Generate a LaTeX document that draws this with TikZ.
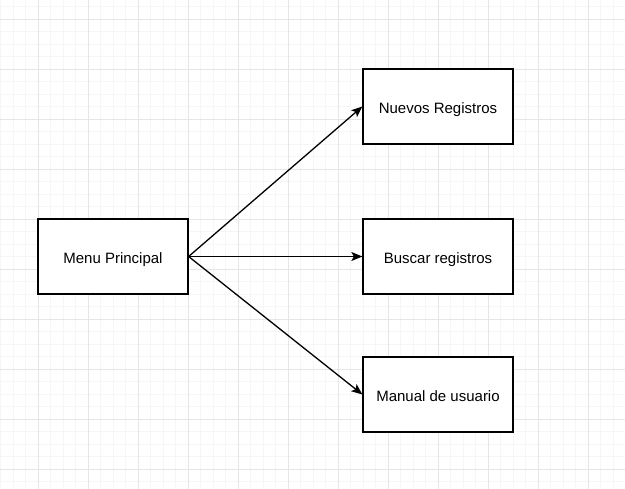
\documentclass[tikz,border=0pt]{standalone}
\usepackage{fontspec}
\setmainfont{Liberation Sans}
\usetikzlibrary{arrows.meta}
\definecolor{gridminor}{HTML}{F6F6F6}
\definecolor{gridmajor}{HTML}{E6E6E6}

\begin{document}
\begin{tikzpicture}[x=1pt,y=-1pt,>={Stealth[length=11pt,width=9pt,inset=2.5pt]},
    box/.style={draw,fill=white,line width=1.25pt,minimum width=150pt,minimum height=75pt,
      inner sep=0pt,text height=13.6pt,text depth=0pt,font=\fontsize{15}{18}\selectfont},
    link/.style={->,line width=1.3pt}]
  \useasboundingbox (0,0) rectangle (625,489);
  % background grid
  \foreach \k in {0,...,49} \draw[gridminor,line width=0.8pt] (0.8+12.5*\k,0) -- ++(0,489);
  \foreach \k in {0,...,38} \draw[gridminor,line width=0.8pt] (0,6.8+12.5*\k) -- ++(625,0);
  \foreach \k in {0,...,11} \draw[gridmajor,line width=0.8pt] (38.3+50*\k,0) -- ++(0,489);
  \foreach \k in {0,...,9} \draw[gridmajor,line width=0.8pt] (0,19.3+50*\k) -- ++(625,0);
  % menu entries
  \node[box] (menu) at (113,256.5) {Menu Principal};
  \node[box] (nuevos) at (438,106.5) {Nuevos Registros};
  \node[box] (buscar) at (438,256.5) {Buscar registros};
  \node[box] (manual) at (438,394.5) {Manual de usuario};
  % links
  \draw[link] (menu.east) -- (nuevos.west);
  \draw[link] (menu.east) -- (buscar.west);
  \draw[link] (menu.east) -- (manual.west);
\end{tikzpicture}
\end{document}
